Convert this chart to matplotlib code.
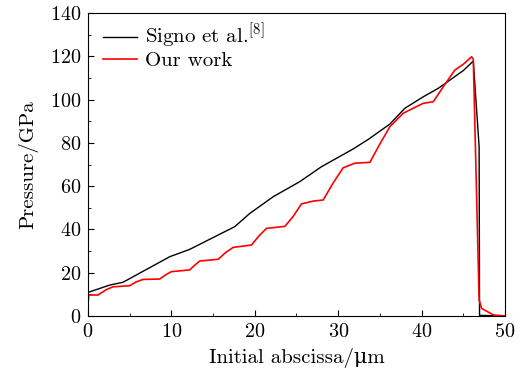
import numpy as np
import matplotlib.pyplot as plt
from matplotlib.ticker import MultipleLocator

plt.rcParams['font.family'] = ['cmr10', 'DejaVu Serif']
plt.rcParams['mathtext.fontset'] = 'cm'
plt.rcParams['axes.formatter.use_mathtext'] = True

# Signo et al. [8]
signo_x = [0.0, 2.6, 4.2, 9.8, 12.2, 17.6, 19.4, 22.2, 25.4, 28.0, 31.8,
           33.6, 36.2, 38.0, 40.2, 42.0, 45.0, 46.2, 46.9, 46.95, 50.0]
signo_p = [10.9, 14.3, 15.6, 27.4, 30.8, 41.3, 47.4, 55.1, 62.1, 69.0, 77.2,
           81.6, 88.7, 96.0, 101.3, 105.2, 113.4, 117.8, 78.2, 0.3, 0.0]

# Our work
ours_x = [0.0, 0.1, 1.2, 2.2, 3.0, 5.0, 5.8, 6.6, 8.6, 9.3, 10.0, 12.2, 12.8,
          13.4, 15.6, 16.5, 17.4, 19.6, 20.5, 21.4, 23.6, 24.6, 25.6, 27.0,
          28.2, 29.4, 30.6, 32.0, 33.8, 35.0, 36.2, 37.8, 40.2, 41.4, 42.7,
          44.0, 45.0, 46.0, 46.2, 46.9, 47.2, 48.6, 50.0]
ours_p = [5.9, 9.7, 9.7, 12.2, 13.5, 14.0, 15.8, 16.9, 17.1, 19.0, 20.5, 21.3,
          23.5, 25.4, 26.2, 29.3, 31.7, 32.8, 37.0, 40.5, 41.4, 46.0, 51.8, 53.1,
          53.6, 61.5, 68.5, 70.6, 71.0, 79.5, 87.5, 93.7, 98.3, 99.0, 106.5,
          113.7, 116.3, 119.8, 118.6, 7.4, 3.5, 0.5, 0.0]

fig = plt.figure(figsize=(5.22, 3.72), dpi=100)
ax = fig.add_axes([0.1686, 0.1505, 0.7988, 0.8145])

ax.plot(signo_x, signo_p, color='black', lw=1.0, label='Signo et al.$^{[8]}$')
ax.plot(ours_x, ours_p, color='red', lw=1.2, label='Our work')

ax.set_xlim(0, 50)
ax.set_ylim(0, 140)
ax.xaxis.set_major_locator(MultipleLocator(10))
ax.xaxis.set_minor_locator(MultipleLocator(5))
ax.yaxis.set_major_locator(MultipleLocator(20))
ax.yaxis.set_minor_locator(MultipleLocator(10))
ax.tick_params(which='both', direction='in', labelsize=14.5, pad=5)
ax.tick_params(which='major', length=4)
ax.tick_params(which='minor', length=2.5)

ax.set_xlabel('Initial abscissa/μm', fontsize=15, labelpad=5)
ax.set_ylabel('Pressure/GPa', fontsize=15, labelpad=8)

ax.legend(loc='upper left', bbox_to_anchor=(0.022, 0.99), frameon=False,
          fontsize=15, handlelength=1.6, handletextpad=0.4, labelspacing=0.0,
          borderaxespad=0.0, borderpad=0.3)

fig.savefig('out.png', dpi=100)
